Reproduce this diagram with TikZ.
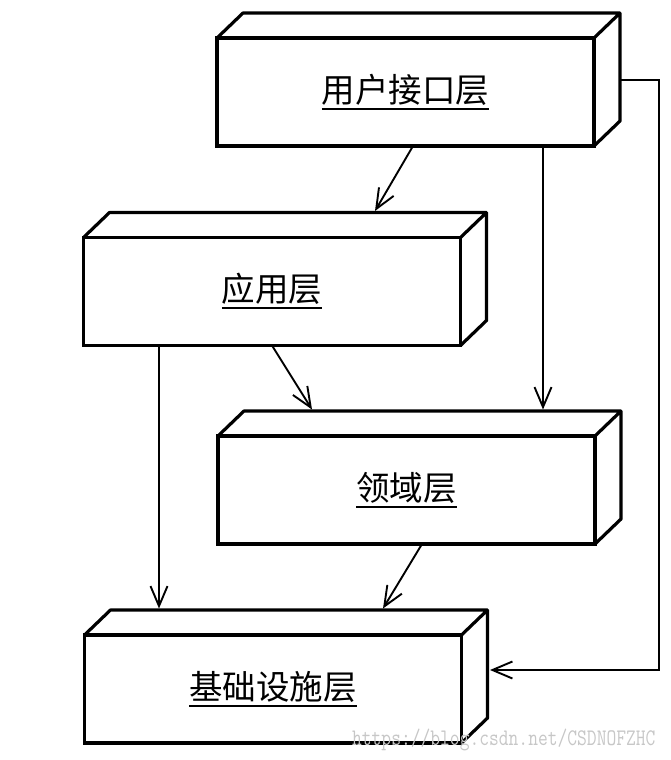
\documentclass[tikz,border=0pt]{standalone}
\usepackage{fontspec}
\newfontfamily\cjk{Noto Sans CJK SC}
\newcommand{\ulname}[1]{\setbox0=\hbox{#1}\rlap{\rule[-7.5pt]{\wd0}{2pt}}\box0}
\usetikzlibrary{arrows.meta,calc}

\tikzset{
  layer/.style={draw, fill=white, line width=3.2pt, outer sep=0pt, inner sep=0pt,
    minimum width=377pt, minimum height=108pt, font=\fontsize{33.5}{33.5}\cjk},
  dep/.style={line width=1.9pt, -{Straight Barb[length=20pt,width=17pt]}},
}

\begin{document}
\begin{tikzpicture}[x=1pt,y=-1pt]
    \useasboundingbox (0,0) rectangle (671,760);

    \draw(405.5,92) node[layer] (ui) {\ulname{用户接口层}};
    \draw(272,291.5) node[layer] (app) {\ulname{应用层}};
    \draw(406.5,490) node[layer] (dom) {\ulname{领域层}};
    \draw(273,689) node[layer] (inf) {\ulname{基础设施层}};
    \foreach \n in {ui,app,dom,inf}
        \draw[line width=3.2pt, line join=round] (\n.north west) -- ++(26,-25)
            -| ($(\n.south east)+(26,-25)$) -- (\n.south east)
            (\n.north east) -- ++(26,-25);

    \draw[dep] ($(ui.south)+(7.5,0)$) -- ($(app.north)+(103,-26.5)$);
    \draw[dep] ($(ui.south)+(137.5,0)$) -- ($(dom.north)+(136.5,-26.5)$);
    \draw[dep] (app.south) -- ($(dom.north)+(-94.5,-26.5)$);
    \draw[dep] ($(app.south)+(-113,0)$) -- ($(inf.north)+(-114,-26.5)$);
    \draw[dep] ($(dom.south)+(15.5,0)$) -- ($(inf.north)+(110,-26.5)$);
    \draw[dep] ($(ui.east)+(26,-12)$) -- ++(39,0) |- ($(inf.east)+(28.5,-19)$);

    \draw(659,745) node[anchor=base east, text=black!22, font=\fontsize{19}{19}\ttfamily] (mark)
        {\scalebox{1}[1.25]{https://blog.csdn.net/CSDNOFZHC}};

\end{tikzpicture}
\end{document}
